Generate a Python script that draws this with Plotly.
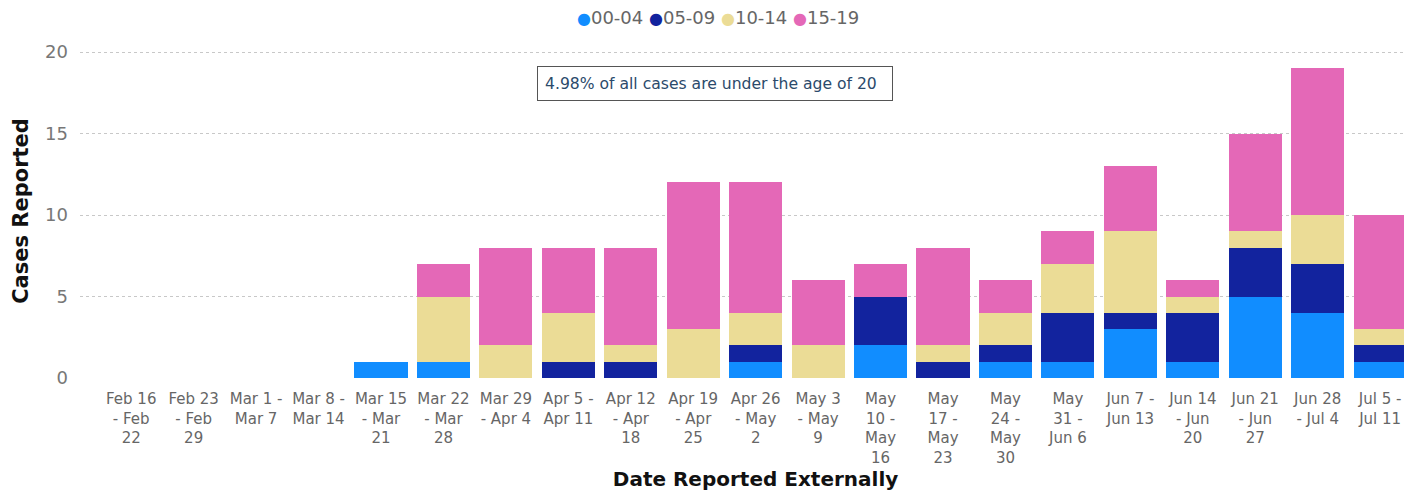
import plotly.graph_objects as go

categories = [
    "Feb 16<br>- Feb<br>22", "Feb 23<br>- Feb<br>29", "Mar 1 -<br>Mar 7", "Mar 8 -<br>Mar 14",
    "Mar 15<br>- Mar<br>21", "Mar 22<br>- Mar<br>28", "Mar 29<br>- Apr 4", "Apr 5 -<br>Apr 11",
    "Apr 12<br>- Apr<br>18", "Apr 19<br>- Apr<br>25", "Apr 26<br>- May<br>2", "May 3<br>- May<br>9",
    "May<br>10 -<br>May<br>16", "May<br>17 -<br>May<br>23", "May<br>24 -<br>May<br>30",
    "May<br>31 -<br>Jun 6", "Jun 7 -<br>Jun 13", "Jun 14<br>- Jun<br>20", "Jun 21<br>- Jun<br>27",
    "Jun 28<br>- Jul 4", "Jul 5 -<br>Jul 11",
]
age_00_04 = [0, 0, 0, 0, 1, 1, 0, 0, 0, 0, 1, 0, 2, 0, 1, 1, 3, 1, 5, 4, 1]
age_05_09 = [0, 0, 0, 0, 0, 0, 0, 1, 1, 0, 1, 0, 3, 1, 1, 3, 1, 3, 3, 3, 1]
age_10_14 = [0, 0, 0, 0, 0, 4, 2, 3, 1, 3, 2, 2, 0, 1, 2, 3, 5, 1, 1, 3, 1]
age_15_19 = [0, 0, 0, 0, 0, 2, 6, 4, 6, 9, 8, 4, 2, 6, 2, 2, 4, 1, 6, 9, 7]

series_names = ["00-04", "05-09", "10-14", "15-19"]
series_values = [age_00_04, age_05_09, age_10_14, age_15_19]
series_colors = ["#118DFF", "#12239E", "#EBDC96", "#E468B7"]
note_text = "4.98% of all cases are under the age of 20"

# the page body has an 8px margin, so the figure is laid out 8px smaller
OFF = 8
W, H = 1412 - OFF, 494 - OFF
L, R, T, B = 80 - OFF, 0, 44 - OFF, 494 - 378
PW, PH = W - L - R, H - T - B


def px_x(sx):
    return (sx - OFF - L) / PW


def px_y(sy):
    return (H - B - (sy - OFF)) / PH


fig = go.Figure()
idx = list(range(len(categories)))
for name, vals, color in zip(series_names, series_values, series_colors):
    fig.add_trace(go.Bar(x=idx, y=vals, name=name, marker=dict(color=color, line=dict(width=0)),
                         width=0.85, showlegend=False))

legend_text = " ".join(
    f"<span style='color:{c};font-size:16px'>●</span>{n}" for n, c in zip(series_names, series_colors)
)

sans = "DejaVu Sans, Verdana, sans-serif"
fig.update_layout(
    barmode="stack",
    width=W, height=H,
    margin=dict(l=L, r=R, t=T, b=B, autoexpand=False),
    plot_bgcolor="white", paper_bgcolor="white",
    font=dict(family=sans, color="#666666"),
    showlegend=False,
    xaxis=dict(
        tickmode="array", tickvals=idx, ticktext=categories,
        range=[-0.82, 20.51], showgrid=False, zeroline=False, showline=False,
        tickfont=dict(size=15, color="#666666"), ticks="", ticklabelstandoff=10,
        title=dict(text="&nbsp;&nbsp;&nbsp;<b>Date Reported Externally</b>",
                   font=dict(size=20, color="#111111"), standoff=6),
    ),
    yaxis=dict(
        range=[0, 20.5], tickvals=[0, 5, 10, 15, 20], showgrid=True, gridcolor="#C8C8C8",
        griddash="dot", gridwidth=1, zeroline=False, showline=False,
        tickfont=dict(size=18, color="#777777"), ticks="", ticklabelstandoff=11,
        title=dict(text="<b>Cases Reported</b>", font=dict(size=21, color="#111111"), standoff=10),
    ),
    annotations=[
        dict(
            text=note_text, xref="paper", yref="paper",
            x=px_x(715), y=px_y(83.5),
            xanchor="center", yanchor="middle", showarrow=False, width=340, height=19,
            align="left", bordercolor="#555555", borderwidth=1, borderpad=7, bgcolor="white",
            font=dict(size=15.6, color="#2B4A6B", family=sans),
        ),
        dict(
            text=legend_text, xref="paper", yref="paper",
            x=px_x(718), y=px_y(18),
            xanchor="center", yanchor="middle", showarrow=False,
            font=dict(size=18, color="#666666", family=sans),
        ),
    ],
)
fig.write_html("out.html")
